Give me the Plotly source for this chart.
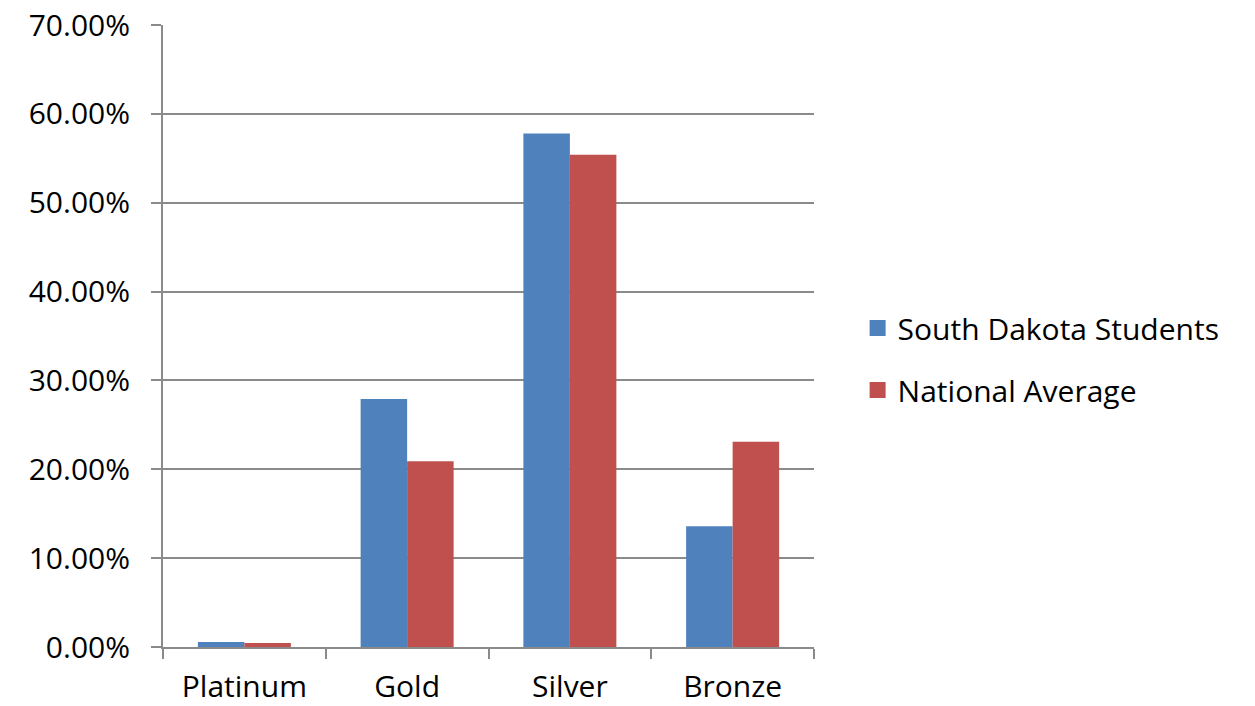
import plotly.graph_objects as go

categories = ["Platinum", "Gold", "Silver", "Bronze"]
south_dakota = [0.0055, 0.279, 0.578, 0.136]
national = [0.0045, 0.209, 0.554, 0.231]
series_names = ["South Dakota Students", "National Average"]
colors = ["#4F81BD", "#C0504D"]
y_ticks = [0, 0.1, 0.2, 0.3, 0.4, 0.5, 0.6, 0.7]

FONT = "'Open Sans', Lato, sans-serif"

fig = go.Figure()
for i, (name, vals) in enumerate(zip(series_names, [south_dakota, national])):
    fig.add_trace(go.Bar(x=categories, y=vals, name=name, marker_color=colors[i],
                         marker_line_width=0, showlegend=False))
    # legend-only marker
    fig.add_trace(go.Scatter(x=[None], y=[None], mode="markers", name=name,
                             legendgroup=name,
                             marker=dict(symbol="square", size=19, color=colors[i])))

fig.update_layout(
    width=1255, height=706,
    margin=dict(l=163, r=441, t=25, b=59, autoexpand=False),
    paper_bgcolor="white", plot_bgcolor="white",
    barmode="group", bargap=0.4286, bargroupgap=0,
    font=dict(family=FONT, size=30, color="black"),
    legend=dict(x=1.067, xanchor="left", y=0.463, yanchor="middle",
                font=dict(size=30), tracegroupgap=20, traceorder="grouped",
                bgcolor="rgba(0,0,0,0)"),
)
fig.update_xaxes(
    type="category", showgrid=False, showline=True, linecolor="#8a8a8a", linewidth=2,
    ticks="outside", tickson="boundaries", ticklen=10, tickwidth=2, tickcolor="#8a8a8a",
    ticklabelstandoff=12, tickfont=dict(size=30), automargin=False,
)
fig.update_yaxes(
    range=[0, 0.7], tickvals=y_ticks, tickformat=".2%",
    showgrid=True, gridcolor="#8a8a8a", gridwidth=2,
    showline=True, linecolor="#8a8a8a", linewidth=2,
    ticks="outside", ticklen=10, tickwidth=2, tickcolor="#8a8a8a",
    ticklabelstandoff=15, tickfont=dict(size=30), zeroline=False, automargin=False,
)

fig.write_html("out.html")
